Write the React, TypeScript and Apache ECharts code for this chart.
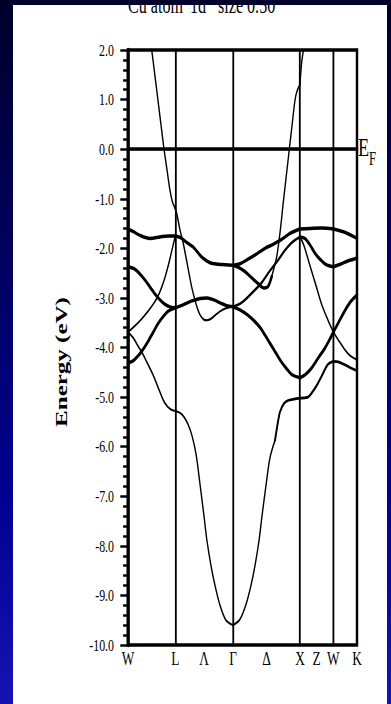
import React, { useEffect, useRef } from 'react';
import * as echarts from 'echarts';

// high-symmetry k positions (units of 2π/a) along W-L-Γ-X-W-K
const nodeK = [0, 0.7071, 1.5731, 2.5731, 3.0731, 3.4267];
const lineK = [0.7071, 1.5731, 2.5731, 3.0731];
const tickK = [0, 0.7071, 1.1401, 1.5731, 2.0731, 2.5731, 2.8231, 3.0731, 3.4267];
const tickLabels = ['W', 'L', 'Λ', 'Γ', 'Δ', 'X', 'Z', 'W', 'K'];
const yMin = -10;
const yMax = 2;

// bands: [k, E(eV)]
const bandA = [[0,-1.61],[0.075,-1.66],[0.18,-1.74],[0.329,-1.8],[0.479,-1.77],[0.599,-1.75],[0.7071,-1.75],
  [0.778,-1.78],[0.898,-1.9],[0.973,-1.97],[1.107,-2.18],[1.227,-2.29],[1.347,-2.32],[1.451,-2.33],[1.5731,-2.34],
  [1.676,-2.31],[1.796,-2.22],[1.915,-2.12],[2.05,-2.0],[2.17,-1.92],[2.289,-1.83],[2.424,-1.7],[2.5731,-1.61],
  [2.723,-1.6],[2.903,-1.59],[3.0731,-1.61],[3.253,-1.68],[3.4267,-1.8]];
const bandB = [[0,-2.37],[0.09,-2.41],[0.18,-2.52],[0.254,-2.64],[0.329,-2.78],[0.404,-2.92],[0.479,-3.04],[0.554,-3.13],[0.628,-3.18],[0.7071,-3.2],
  [0.823,-3.14],[0.958,-3.06],[1.077,-3.01],[1.182,-3.0],[1.287,-3.04],[1.377,-3.1],[1.466,-3.15],[1.5731,-3.18],
  [1.676,-3.24],[1.796,-3.35],[1.915,-3.5],[1.99,-3.62],[2.095,-3.85],[2.185,-4.05],[2.289,-4.28],[2.369,-4.42],[2.454,-4.55],[2.5731,-4.61],
  [2.65,-4.55],[2.743,-4.42],[2.843,-4.22],[2.943,-4.02],[3.013,-3.85],[3.0731,-3.69],
  [3.148,-3.5],[3.248,-3.25],[3.328,-3.08],[3.4267,-2.94]];
const bandC = [[0,-3.69],[0.1,-3.57],[0.2,-3.43],[0.3,-3.27],[0.4,-3.08],[0.45,-2.96],[0.5,-2.8],[0.55,-2.6],[0.6,-2.36],[0.65,-2.08],[0.7071,-1.75]];
const bandD = [[0,-4.31],[0.075,-4.27],[0.15,-4.17],[0.209,-4.07],[0.299,-3.88],[0.374,-3.7],[0.449,-3.52],[0.524,-3.38],[0.599,-3.27],[0.7071,-3.2]];
const bandELow = [[0,-3.69],[0.075,-3.8],[0.15,-3.97],[0.209,-4.1],[0.284,-4.3],[0.374,-4.55],[0.449,-4.8],[0.524,-5.05],[0.584,-5.18],[0.643,-5.25],[0.7071,-5.28],
  [0.778,-5.32],[0.838,-5.4],[0.898,-5.55],[0.958,-5.78],[1.018,-6.15],[1.077,-6.75],[1.137,-7.4],[1.182,-7.9],[1.242,-8.4],[1.302,-8.8],[1.377,-9.2],[1.466,-9.5],[1.5731,-9.6],
  [1.676,-9.48],[1.766,-9.18],[1.84,-8.8],[1.9,-8.4],[1.96,-7.9],[2.005,-7.4],[2.065,-6.78],[2.125,-6.22],[2.2,-5.87]];
const bandEHigh = [[2.2,-5.87],[2.244,-5.5],[2.274,-5.3],[2.334,-5.13],[2.394,-5.07],[2.484,-5.04],[2.5731,-5.02],
  [2.693,-5.0],[2.743,-4.93],[2.818,-4.78],[2.893,-4.59],[2.993,-4.34],[3.0731,-4.28],
  [3.148,-4.29],[3.248,-4.35],[3.328,-4.41],[3.4267,-4.47]];
const bandFWL = [[0.299,2.6],[0.355,2.0],[0.404,1.47],[0.449,0.98],[0.494,0.49],[0.539,0.0],[0.584,-0.42],[0.628,-0.83],[0.666,-1.07],[0.7071,-1.2]];
const bandFLG = [[0.7071,-1.2],[0.733,-1.32],[0.778,-1.63],[0.827,-1.9],[0.89,-2.34],[0.953,-2.78],[1.018,-3.12],[1.077,-3.34],[1.137,-3.44],[1.182,-3.45],
  [1.242,-3.42],[1.302,-3.35],[1.377,-3.27],[1.466,-3.21],[1.5731,-3.18]];
const bandFGX = [[1.5731,-3.18],[1.676,-3.12],[1.751,-3.04],[1.87,-2.88],[1.99,-2.71],[2.125,-2.45],[2.244,-2.24],[2.349,-2.04],[2.439,-1.9],[2.514,-1.82],[2.5731,-1.77]];
const bandFXK = [[2.5731,-1.77],[2.634,-1.95],[2.723,-2.35],[2.813,-2.75],[2.903,-3.15],[2.993,-3.45],[3.0731,-3.69],
  [3.148,-3.85],[3.248,-4.05],[3.328,-4.17],[3.4267,-4.25]];
const bandH = [[2.5731,-1.77],[2.648,-1.8],[2.723,-1.93],[2.798,-2.1],[2.873,-2.22],[2.963,-2.33],[3.0731,-2.37],[3.178,-2.32],[3.298,-2.25],[3.4267,-2.2]];
const bandIDip = [[1.5731,-2.34],[1.646,-2.38],[1.751,-2.47],[1.855,-2.6],[1.945,-2.71],[2.035,-2.8],[2.095,-2.77],[2.15,-2.57]];
const bandISp = [[2.15,-2.57],[2.225,-2.17],[2.282,-1.6],[2.327,-1.03],[2.372,-0.5],[2.414,0],[2.454,0.47],[2.499,0.99],[2.529,1.17],[2.5731,1.3],
  [2.599,1.75],[2.63,2.05],[2.67,2.5]];

const THICK = 3.5;
const MED = 2.7;
const THIN = 2.0;

const pieces = [
  { pts: bandA, w: THICK },
  { pts: bandB, w: THICK },
  { pts: bandC, w: THIN },
  { pts: bandD, w: THICK },
  { pts: bandELow, w: THIN },
  { pts: bandEHigh, w: MED },
  { pts: bandFWL, w: THIN },
  { pts: bandFLG, w: THIN },
  { pts: bandFGX, w: MED },
  { pts: bandFXK, w: THIN },
  { pts: bandH, w: THICK },
  { pts: bandIDip, w: THICK },
  { pts: bandISp, w: THIN },
];

function splitAtNodes(pts: number[][]) {
  const out: number[][][] = [];
  let cur: number[][] = [];
  pts.forEach((p, i) => {
    cur.push(p);
    const isNode = nodeK.some((n) => Math.abs(n - p[0]) < 1e-3);
    if (isNode && cur.length > 1 && i < pts.length - 1) {
      out.push(cur);
      cur = [p];
    }
  });
  if (cur.length > 1) out.push(cur);
  return out;
}

const PANEL_W = 374;
const PANEL_H = 699;
const CHART_W = 534;
const SQ = PANEL_W / CHART_W;
const FONT = '"Liberation Serif", "Times New Roman", serif';

export default function App() {
  const ref = useRef<HTMLDivElement>(null);
  useEffect(() => {
    if (!ref.current) return;
    const chart = echarts.init(ref.current, undefined, { renderer: 'svg' });
    const series: any[] = [];
    series.push({
      type: 'line',
      data: [],
      silent: true,
      z: 1,
      markLine: {
        silent: true,
        symbol: ['none', 'none'],
        label: { show: false },
        animation: false,
        data: [
          ...lineK.map((k) => ({ xAxis: k, lineStyle: { color: '#000', width: 2.6, type: 'solid' } })),
          { yAxis: 0, lineStyle: { color: '#000', width: 1.3, type: 'solid' } },
        ],
      },
    });
    pieces.forEach((pc) => {
      splitAtNodes(pc.pts).forEach((seg) => {
        series.push({
          type: 'line',
          data: seg,
          showSymbol: false,
          smooth: 0.3,
          clip: true,
          silent: true,
          z: 3,
          lineStyle: { color: '#000', width: pc.w, cap: 'round', join: 'round' },
        });
      });
    });
    const toX = (sx: number) => (sx - 13) / SQ;
    chart.setOption({
      animation: false,
      backgroundColor: 'transparent',
      grid: {
        left: toX(128),
        right: CHART_W - toX(357),
        top: 45,
        bottom: PANEL_H - 640,
        show: true,
        borderColor: '#000',
        borderWidth: 3.5,
        backgroundColor: 'transparent',
      },
      xAxis: {
        type: 'value',
        min: nodeK[0],
        max: nodeK[nodeK.length - 1],
        splitLine: { show: false },
        axisLine: { show: true, lineStyle: { color: '#000', width: 3.5 } },
        axisTick: { show: false },
        axisLabel: {
          customValues: tickK,
          margin: 4,
          color: '#000',
          fontFamily: FONT,
          fontSize: 19,
          formatter: (v: number) => {
            let best = 0;
            tickK.forEach((k, i) => {
              if (Math.abs(k - v) < Math.abs(tickK[best] - v)) best = i;
            });
            return tickLabels[best];
          },
        },
      },
      yAxis: {
        type: 'value',
        min: yMin,
        max: yMax,
        interval: 1,
        splitLine: { show: false },
        axisLine: { show: true, lineStyle: { color: '#000', width: 4.5 } },
        axisTick: { show: true, inside: false, length: 11, lineStyle: { color: '#000', width: 2.5 } },
        minorTick: { show: true, splitNumber: 5, length: 7, lineStyle: { color: '#000', width: 2.5 } },
        axisLabel: {
          margin: 20,
          color: '#000',
          fontFamily: FONT,
          fontSize: 17,
          formatter: (v: number) => v.toFixed(1),
        },
      },
      graphic: [
        { type: 'text', x: toX(128), y: -0.5, style: { text: 'Cu atom', fontFamily: FONT, fontSize: 23, fill: '#000', align: 'left', verticalAlign: 'middle' } },
        { type: 'text', x: toX(190), y: -0.5, style: { text: '1d', fontFamily: FONT, fontSize: 23, fill: '#000', align: 'left', verticalAlign: 'middle' } },
        { type: 'text', x: toX(218), y: -0.5, style: { text: 'size 0.50', fontFamily: FONT, fontSize: 23, fill: '#000', align: 'left', verticalAlign: 'middle' } },
        { type: 'text', x: toX(358), y: 142.5, style: { text: 'E', fontFamily: FONT, fontSize: 26, fill: '#000', align: 'left', verticalAlign: 'middle' } },
        { type: 'text', x: toX(369), y: 154, style: { text: 'F', fontFamily: FONT, fontSize: 18, fill: '#000', align: 'left', verticalAlign: 'middle' } },
        { type: 'text', x: toX(61), y: 357, rotation: Math.PI / 2, style: { text: 'Energy (eV)', fontFamily: FONT, fontWeight: 'bold', fontSize: 25, fill: '#000', align: 'center', verticalAlign: 'middle' } },
      ],
      series,
    });
    return () => chart.dispose();
  }, []);

  return (
    <div style={{ position: 'fixed', left: 0, top: 0, width: 391, height: 704, overflow: 'hidden',
      background: 'linear-gradient(to bottom, #00002a 0%, #00005e 35%, #000090 70%, #1414b4 100%)' }}>
      <div style={{ position: 'absolute', left: 13, top: 5, width: PANEL_W, height: PANEL_H, background: '#fff', overflow: 'hidden' }}>
        <div ref={ref} style={{ position: 'absolute', left: 0, top: 0, width: CHART_W, height: PANEL_H, transform: `scaleX(${SQ})`, transformOrigin: '0 0' }} />
      </div>
    </div>
  );
}
